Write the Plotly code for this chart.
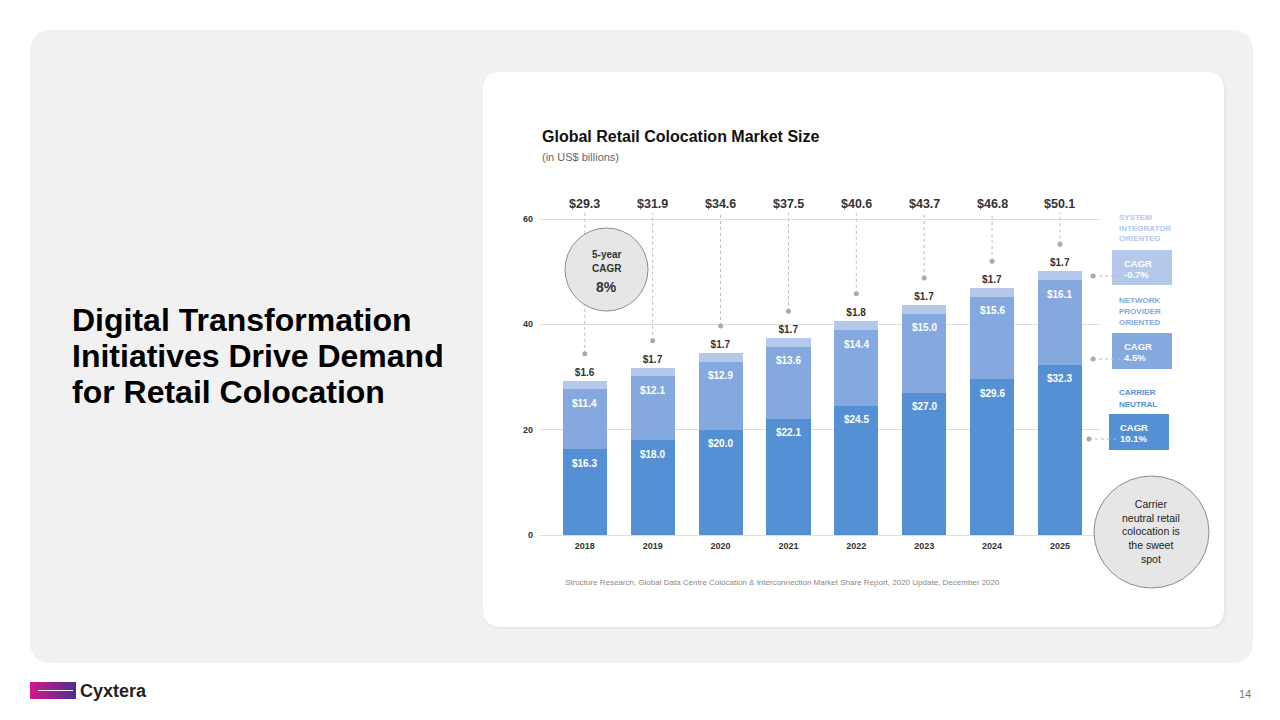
import plotly.graph_objects as go

# ---------------- data ----------------
years = ["2018", "2019", "2020", "2021", "2022", "2023", "2024", "2025"]
carrier_neutral = [16.3, 18.0, 20.0, 22.1, 24.5, 27.0, 29.6, 32.3]
network_provider = [11.4, 12.1, 12.9, 13.6, 14.4, 15.0, 15.6, 16.1]
system_integrator = [1.6, 1.7, 1.7, 1.7, 1.8, 1.7, 1.7, 1.7]
totals = [29.3, 31.9, 34.6, 37.5, 40.6, 43.7, 46.8, 50.1]
y_ticks = [0, 20, 40, 60]
cagr_labels = ["-0.7%", "4.5%", "10.1%"]

# ---------------- style ----------------
W, H = 1280, 720
FONT = "Liberation Sans, Arial, sans-serif"
C_DARK = "#5590d4"
C_MID = "#85a8de"
C_LIGHT = "#b4c8ec"
TXT = "#333333"


def X(px):
    return px / W


def Y(py):
    return 1 - py / H


def rrect(x0, y0, x1, y1, r):
    return (f"M {X(x0 + r)},{Y(y0)} L {X(x1 - r)},{Y(y0)} Q {X(x1)},{Y(y0)} {X(x1)},{Y(y0 + r)} "
            f"L {X(x1)},{Y(y1 - r)} Q {X(x1)},{Y(y1)} {X(x1 - r)},{Y(y1)} "
            f"L {X(x0 + r)},{Y(y1)} Q {X(x0)},{Y(y1)} {X(x0)},{Y(y1 - r)} "
            f"L {X(x0)},{Y(y0 + r)} Q {X(x0)},{Y(y0)} {X(x0 + r)},{Y(y0)} Z")


def ptext(px, py, text, size, color, bold=False, xanchor="center", align="center"):
    f = dict(family=FONT, size=size, color=color)
    if bold:
        f["weight"] = "bold"
    return dict(x=X(px), y=Y(py), xref="paper", yref="paper", text=text, showarrow=False,
                xanchor=xanchor, yanchor="middle", align=align, font=f)


fig = go.Figure()

# stacked bars
fig.add_trace(go.Bar(x=years, y=carrier_neutral, marker=dict(color=C_DARK, line=dict(width=0)),
                     width=0.65, name="Carrier neutral", hoverinfo="skip"))
fig.add_trace(go.Bar(x=years, y=network_provider, marker=dict(color=C_MID, line=dict(width=0)),
                     width=0.65, name="Network provider", hoverinfo="skip"))
fig.add_trace(go.Bar(x=years, y=system_integrator, marker=dict(color=C_LIGHT, line=dict(width=0)),
                     width=0.65, name="System integrator", hoverinfo="skip",
                     text=[f"${v:.1f}" for v in system_integrator], textposition="outside",
                     textfont=dict(family=FONT, size=10, color=TXT, weight="bold"),
                     cliponaxis=False))

# dotted leader lines from total labels to dots
top_seg = [c + n + s for c, n, s in zip(carrier_neutral, network_provider, system_integrator)]
dot_y = [t + 5.1 for t in top_seg]
for yr, dy in zip(years, dot_y):
    fig.add_trace(go.Scatter(x=[yr, yr], y=[dy, 61.2], mode="lines",
                             line=dict(color="#bdbdbd", width=1, dash="dot"),
                             hoverinfo="skip", showlegend=False))
fig.add_trace(go.Scatter(x=years, y=dot_y, mode="markers",
                         marker=dict(color="#aaaaaa", size=5), hoverinfo="skip", showlegend=False,
                         cliponaxis=False))

annotations = []
# inside segment labels (category axis -> numeric index for annotations)
for i, (c, n) in enumerate(zip(carrier_neutral, network_provider)):
    annotations.append(dict(x=i, y=c, xref="x", yref="y", text=f"${c:.1f}", showarrow=False,
                            xanchor="center", yanchor="middle", yshift=-14,
                            font=dict(family=FONT, size=10, color="white", weight="bold")))
    annotations.append(dict(x=i, y=c + n, xref="x", yref="y", text=f"${n:.1f}", showarrow=False,
                            xanchor="center", yanchor="middle", yshift=-14,
                            font=dict(family=FONT, size=10, color="white", weight="bold")))
# totals on top
for i, t in enumerate(totals):
    annotations.append(dict(x=i, y=62.85, xref="x", yref="y", text=f"${t:.1f}", showarrow=False,
                            xanchor="center", yanchor="middle",
                            font=dict(family=FONT, size=12.5, color=TXT, weight="bold")))

shapes = []
# background panels
shapes.append(dict(type="path", path=rrect(30, 30, 1253, 663, 22), xref="paper", yref="paper",
                   fillcolor="#f1f1f1", line=dict(width=0), layer="below"))
shapes.append(dict(type="path", path=rrect(483, 74, 1226, 629, 18), xref="paper", yref="paper",
                   fillcolor="#e8e8e8", line=dict(width=0), layer="below"))
shapes.append(dict(type="path", path=rrect(483, 72, 1224, 627, 18), xref="paper", yref="paper",
                   fillcolor="#ffffff", line=dict(width=0), layer="below"))

# 5-year CAGR circle
shapes.append(dict(type="circle", xref="paper", yref="paper", x0=X(565), x1=X(648), y0=Y(228), y1=Y(311),
                   fillcolor="#e6e6e6", line=dict(color="#8c8c8c", width=1), layer="above"))
annotations += [
    ptext(606.5, 254, "5-year", 10, TXT, bold=True),
    ptext(606.5, 268, "CAGR", 10, TXT, bold=True),
    ptext(606.5, 287, "8%", 14, TXT, bold=True),
]

# sweet spot circle
shapes.append(dict(type="circle", xref="paper", yref="paper", x0=X(1094), x1=X(1209), y0=Y(476), y1=Y(588),
                   fillcolor="#e6e6e6", line=dict(color="#8c8c8c", width=1), layer="above"))
annotations.append(ptext(1151, 531, "Carrier<br>neutral retail<br>colocation is<br>the sweet<br>spot",
                         10.5, "#222222"))

# right-side legend blocks
legend_blocks = [
    (["SYSTEM", "INTEGRATOR", "ORIENTED"], [217, 228, 239], C_LIGHT, (1112, 250, 1172, 285), 1122, (1093, 276)),
    (["NETWORK", "PROVIDER", "ORIENTED"], [300, 311, 322], C_MID, (1112, 333, 1172, 369), 1122, (1093, 359)),
    (["CARRIER", "NEUTRAL"], [393, 404], C_DARK, (1109, 414, 1169, 450), 1118, (1089, 439)),
]
for (lines, ys, col, box, tx, dot), cg in zip(legend_blocks, cagr_labels):
    for ln, ly in zip(lines, ys):
        annotations.append(ptext(1116.5, ly, ln, 8, col, bold=True, xanchor="left"))
    bx0, by0, bx1, by1 = box
    shapes.append(dict(type="rect", xref="paper", yref="paper", x0=X(bx0), x1=X(bx1), y0=Y(by0), y1=Y(by1),
                       fillcolor=col, line=dict(width=0)))
    annotations.append(ptext(tx, by0 + 13, "CAGR", 9.5, "white", bold=True, xanchor="left"))
    annotations.append(ptext(tx, by0 + 24.5, cg, 9.5, "white", bold=True, xanchor="left"))
    dx, dy_ = dot
    shapes.append(dict(type="line", xref="paper", yref="paper", x0=X(dx), x1=X(bx0 + 8), y0=Y(dy_), y1=Y(dy_),
                       line=dict(color="#bbbbbb", width=1, dash="dot")))
    shapes.append(dict(type="circle", xref="paper", yref="paper", x0=X(dx - 2.5), x1=X(dx + 2.5),
                       y0=Y(dy_ - 2.5), y1=Y(dy_ + 2.5), fillcolor="#aaaaaa", line=dict(width=0)))

# titles
annotations += [
    ptext(540, 136, "Global Retail Colocation Market Size", 16, "#111111", bold=True, xanchor="left"),
    ptext(540, 157, "(in US$ billions)", 11, "#666666", xanchor="left"),
    ptext(563, 582, "Structure Research, Global Data Centre Colocation & Interconnection Market Share Report, "
                    "2020 Update, December 2020", 8, "#888888", xanchor="left"),
]

# left heading
for ln, ly in zip(["Digital Transformation", "Initiatives Drive Demand", "for Retail Colocation"], [320, 356, 392]):
    annotations.append(ptext(70, ly, ln, 32, "#000000", bold=True, xanchor="left"))

# logo
n_slices = 12
c0, c1 = (205, 25, 140), (85, 45, 140)
for i in range(n_slices):
    f = i / (n_slices - 1)
    col = "rgb({},{},{})".format(*[int(a + (b - a) * f) for a, b in zip(c0, c1)])
    sx0 = 30 + 46 * i / n_slices
    sx1 = min(76, 30 + 46 * (i + 1) / n_slices + 1)
    shapes.append(dict(type="rect", xref="paper", yref="paper", x0=X(sx0), x1=X(sx1), y0=Y(682), y1=Y(699),
                       fillcolor=col, line=dict(width=0)))
shapes.append(dict(type="line", xref="paper", yref="paper", x0=X(38), x1=X(73), y0=Y(690.5), y1=Y(690.5),
                   line=dict(color="white", width=1.2)))
annotations.append(ptext(78, 691, "Cyxtera", 18, "#231f20", bold=True, xanchor="left"))
annotations.append(ptext(1253, 694, "14", 11, "#777777", xanchor="right"))

y_px0, px_per = 535, 316 / 60
y_top = 63
fig.update_layout(
    width=W, height=H, margin=dict(l=0, r=0, t=0, b=0, pad=0, autoexpand=False),
    paper_bgcolor="white", plot_bgcolor="rgba(0,0,0,0)",
    barmode="stack", showlegend=False,
    xaxis=dict(domain=[540 / W, 1100 / W], type="category", range=[-0.66, 7.59], automargin=False,
               showgrid=False, zeroline=False, showline=False, ticks="",
               tickfont=dict(family=FONT, size=9, color=TXT, weight="bold"), ticklabelstandoff=4),
    yaxis=dict(domain=[(H - y_px0) / H, (H - (y_px0 - y_top * px_per)) / H], range=[0, y_top],
               automargin=False,
               tickvals=y_ticks, showgrid=True, gridcolor="#dddddd", gridwidth=1,
               zeroline=True, zerolinecolor="#dddddd", zerolinewidth=1, showline=False, ticks="",
               tickfont=dict(family=FONT, size=9, color=TXT, weight="bold"), ticklabelstandoff=6),
    shapes=shapes, annotations=annotations,
    font=dict(family=FONT),
)

fig.write_html("out.html", config={"displayModeBar": False},
               post_script="document.body.style.margin='0';")
